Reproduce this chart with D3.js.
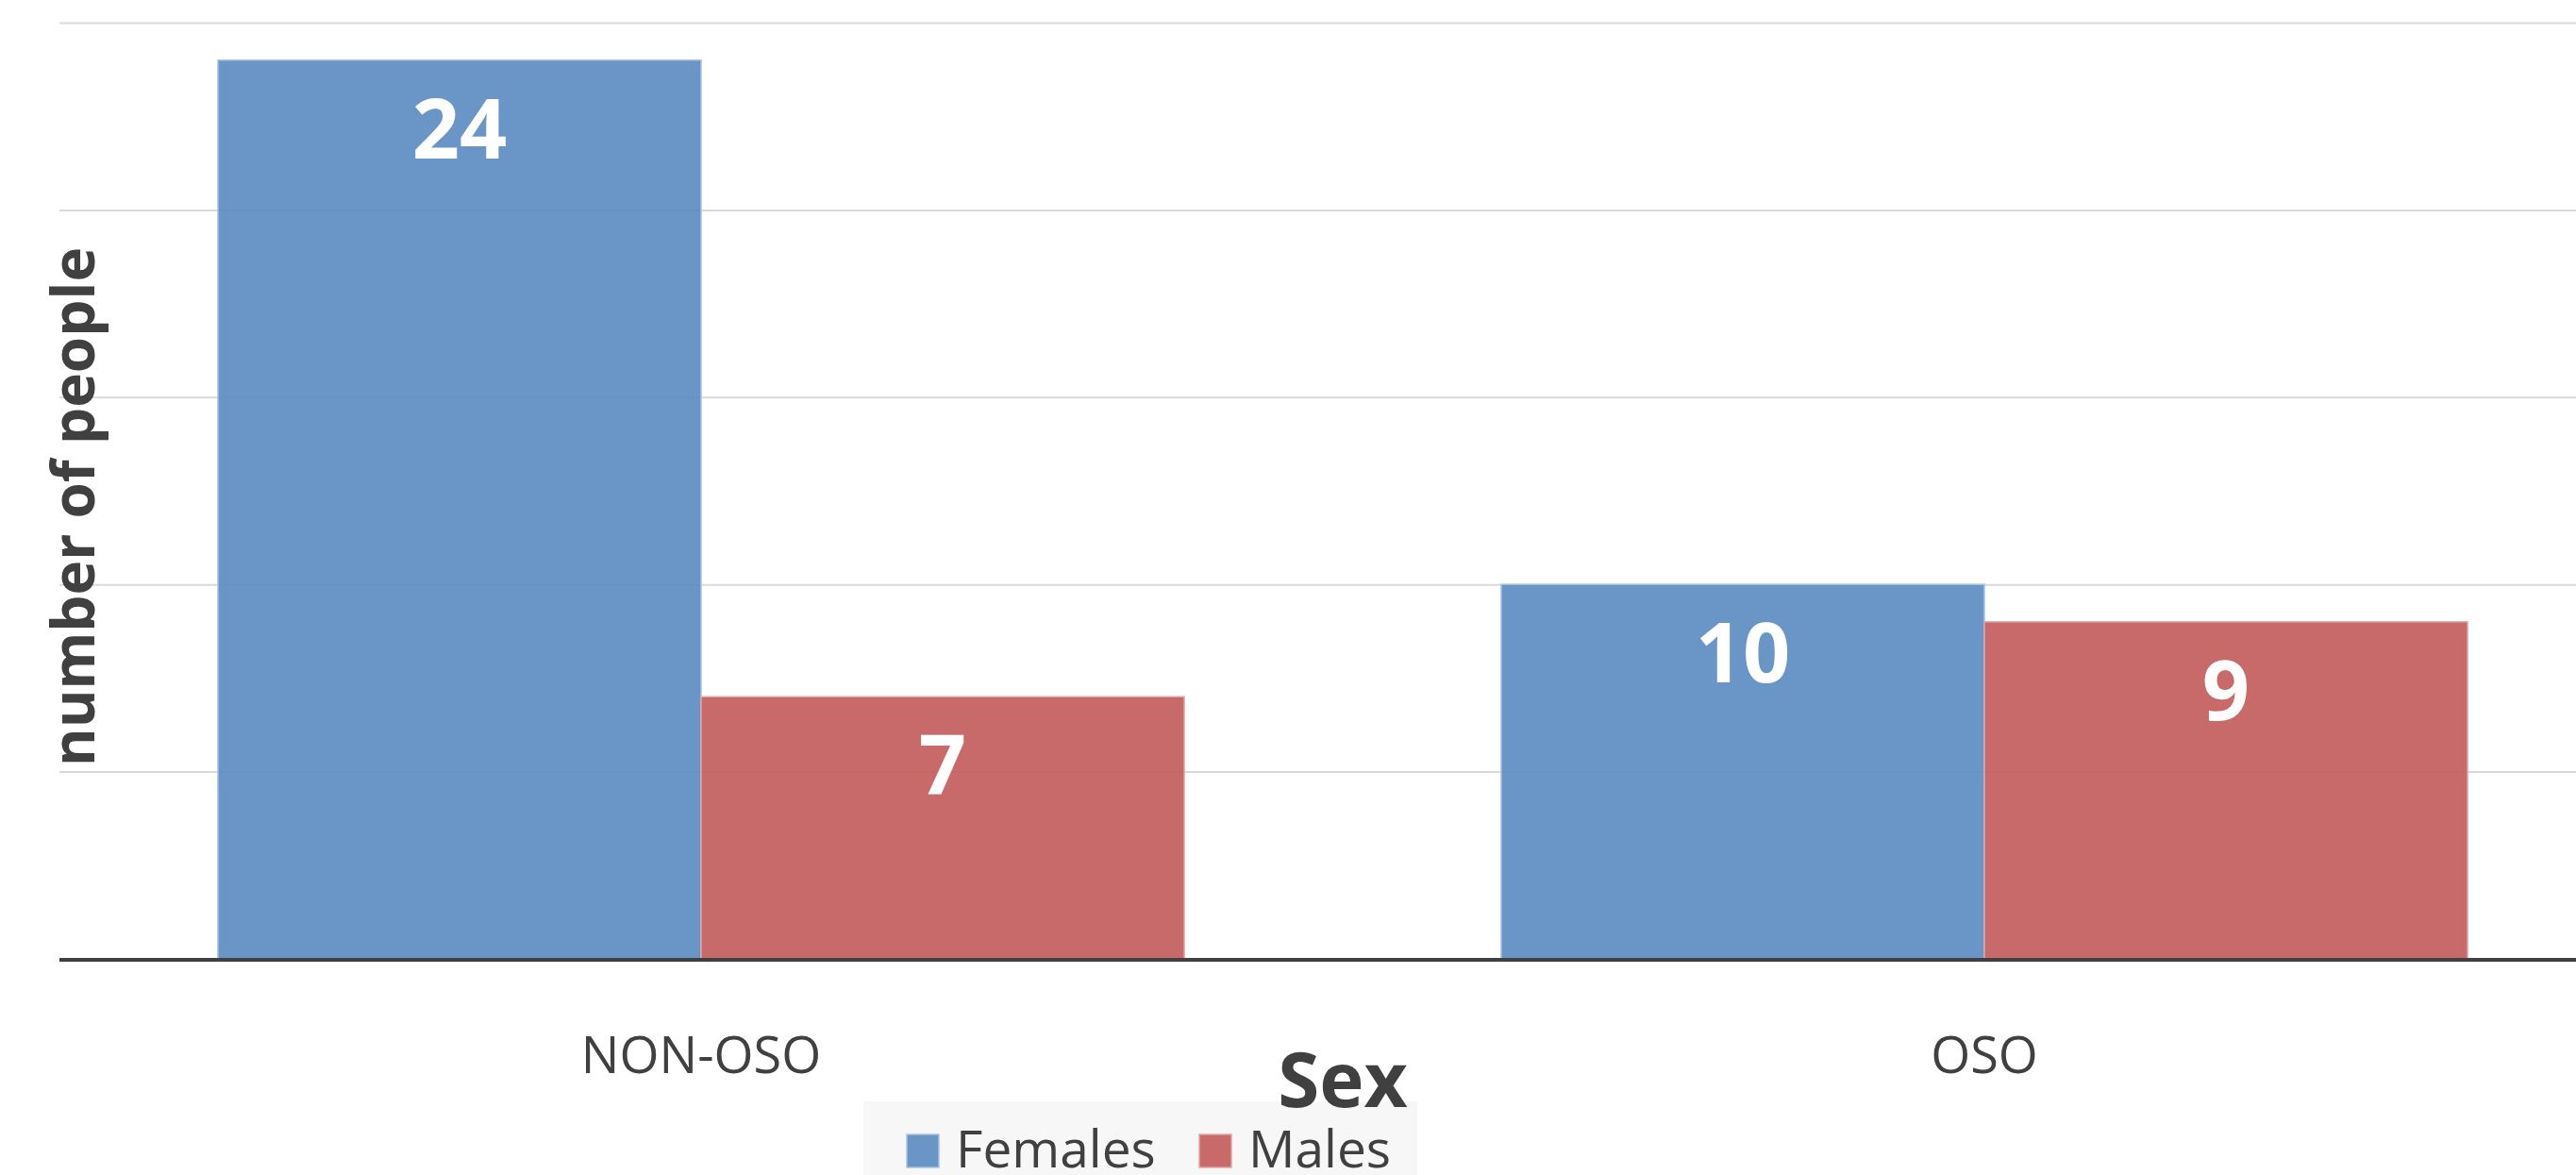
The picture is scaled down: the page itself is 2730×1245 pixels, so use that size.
<!DOCTYPE html>
<html>
<head>
<meta charset="utf-8">
<script src="https://cdn.jsdelivr.net/npm/d3@7"></script>
<style>
  body { margin: 0; background: #fff; }
  text { font-family: "Open Sans", "Noto Sans", sans-serif; }
</style>
</head>
<body>
<div id="chart"></div>
<script>
// Data
const categories = ["NON-OSO", "OSO"];
const seriesNames = ["Females", "Males"];
const femalesValues = [24, 10];
const malesValues = [7, 9];
const yTicks = [0, 5, 10, 15, 20, 25];

const seriesColors = {"Females": "#5c8cc2", "Males": "#c35d5c"};
const seriesEdges = {"Females": "#a9c3e3", "Males": "#e0a6a5"};

function drawChart() {
    const W = 2730, H = 1245;
    const plot = {left: 63, right: 2783, top: 24, bottom: 1016};

    const svg = d3.select("#chart").append("svg")
        .attr("width", W)
        .attr("height", H);

    const x0 = d3.scaleBand()
        .domain(categories)
        .range([plot.left, plot.right])
        .paddingInner(0.247)
        .paddingOuter(0.1235);

    const x1 = d3.scaleBand()
        .domain(seriesNames)
        .range([0, x0.bandwidth()])
        .padding(0);

    const y = d3.scaleLinear()
        .domain([0, 25])
        .range([plot.bottom, plot.top]);

    // Gridlines
    svg.append("g")
        .attr("transform", `translate(${plot.left},0)`)
        .call(d3.axisLeft(y).tickValues(yTicks).tickSize(-(W - plot.left)).tickFormat(""))
        .call(g => g.select(".domain").remove())
        .call(g => g.selectAll(".tick line")
            .attr("stroke", "#d9d9d9")
            .attr("stroke-width", 2));

    // Rows of data per category
    const rows = categories.map((c, i) => ({
        category: c,
        values: [
            {series: "Females", value: femalesValues[i]},
            {series: "Males", value: malesValues[i]}
        ]
    }));

    const groups = svg.selectAll(".group")
        .data(rows)
        .enter()
        .append("g")
        .attr("class", "group")
        .attr("transform", d => `translate(${x0(d.category)},0)`);

    groups.selectAll("rect")
        .data(d => d.values)
        .enter()
        .append("rect")
        .attr("x", d => x1(d.series))
        .attr("y", d => y(d.value))
        .attr("width", x1.bandwidth())
        .attr("height", d => y(0) - y(d.value))
        .attr("fill", d => seriesColors[d.series])
        .attr("fill-opacity", 0.92)
        .attr("stroke", d => seriesEdges[d.series])
        .attr("stroke-width", 1.5);

    // Value labels inside bars
    groups.selectAll(".value")
        .data(d => d.values)
        .enter()
        .append("text")
        .attr("class", "value")
        .attr("x", d => x1(d.series) + x1.bandwidth() / 2)
        .attr("y", d => y(d.value) + 104)
        .attr("text-anchor", "middle")
        .style("font-size", "88px")
        .style("font-weight", "bold")
        .style("fill", "#ffffff")
        .text(d => d.value);

    // X axis baseline
    svg.append("line")
        .attr("x1", plot.left)
        .attr("x2", W)
        .attr("y1", y(0) + 1)
        .attr("y2", y(0) + 1)
        .attr("stroke", "#404040")
        .attr("stroke-width", 4);

    // Category labels
    svg.selectAll(".cat")
        .data(categories)
        .enter()
        .append("text")
        .attr("class", "cat")
        .attr("x", d => x0(d) + x0.bandwidth() / 2)
        .attr("y", 1137)
        .attr("text-anchor", "middle")
        .style("font-size", "54px")
        .style("fill", "#404040")
        .text(d => d);

    // Legend (drawn before the axis title so the title sits on top)
    const legend = svg.append("g");
    legend.append("rect")
        .attr("x", 915)
        .attr("y", 1167)
        .attr("width", 587)
        .attr("height", 90)
        .attr("fill", "#f7f7f7");

    const legendX = {"Females": 961, "Males": 1271};
    const items = legend.selectAll(".item")
        .data(seriesNames)
        .enter()
        .append("g")
        .attr("class", "item")
        .attr("transform", d => `translate(${legendX[d]},1202)`);

    items.append("rect")
        .attr("width", 34)
        .attr("height", 35)
        .attr("fill", d => seriesColors[d])
        .attr("fill-opacity", 0.92)
        .attr("stroke", d => seriesEdges[d])
        .attr("stroke-width", 1.5);

    items.append("text")
        .attr("x", 52)
        .attr("y", 35)
        .style("font-size", "55px")
        .style("fill", "#404040")
        .text(d => d);

    // X axis title
    svg.append("text")
        .attr("x", (plot.left + plot.right) / 2)
        .attr("y", 1173)
        .attr("text-anchor", "middle")
        .style("font-size", "80px")
        .style("font-weight", "bold")
        .style("fill", "#404040")
        .text("Sex");

    // Y axis title
    svg.append("text")
        .attr("transform", "translate(100,537) rotate(-90)")
        .attr("text-anchor", "middle")
        .style("font-size", "62px")
        .style("font-weight", "bold")
        .style("fill", "#404040")
        .text("number of people");
}

document.addEventListener("DOMContentLoaded", drawChart);
</script>
</body>
</html>
